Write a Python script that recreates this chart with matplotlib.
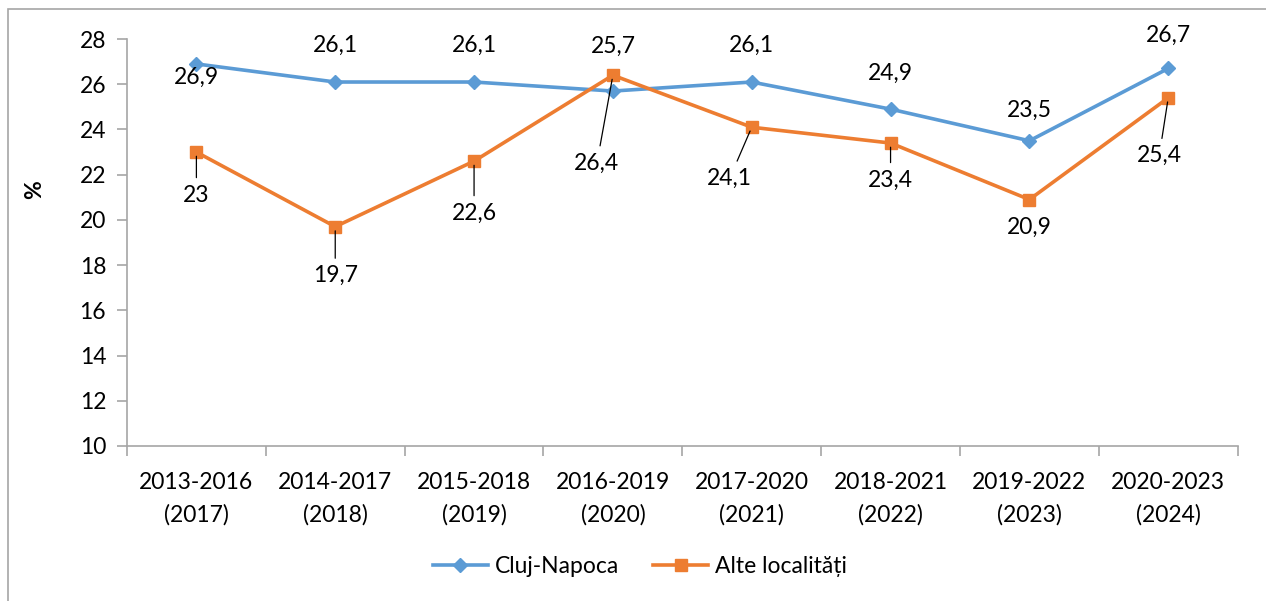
import matplotlib
matplotlib.use('Agg')
from matplotlib import pyplot as plt
from matplotlib.patches import Rectangle

plt.rcParams['font.family'] = ['Lato', 'DejaVu Sans']

categories = ['2013-2016\n(2017)', '2014-2017\n(2018)', '2015-2018\n(2019)',
              '2016-2019\n(2020)', '2017-2020\n(2021)', '2018-2021\n(2022)',
              '2019-2022\n(2023)', '2020-2023\n(2024)']
cluj = [26.9, 26.1, 26.1, 25.7, 26.1, 24.9, 23.5, 26.7]
alte = [23.0, 19.7, 22.6, 26.4, 24.1, 23.4, 20.9, 25.4]
cluj_labels = ['26,9', '26,1', '26,1', '25,7', '26,1', '24,9', '23,5', '26,7']
alte_labels = ['23', '19,7', '22,6', '26,4', '24,1', '23,4', '20,9', '25,4']

# label offsets in pixels (dx, dy), and whether a leader line is drawn
cluj_off = [(0, -13), (0, 37), (0, 37), (0, 45), (0, 37), (0, 36), (0, 30), (0, 33)]
alte_off = [(0, -43), (0, -49), (0, -52), (-16, -88), (-22, -51), (0, -37), (0, -28), (-9, -58)]
alte_leader = [True, True, True, True, True, True, False, True]

blue = '#5B9BD5'
orange = '#ED7D31'
axis_grey = '#A6A6A6'
fs = 16.5

fig = plt.figure(figsize=(12.66, 6.01), dpi=100)
ax = fig.add_axes([0.1003, 0.258, 0.8773, 0.677])

x = range(len(categories))
ax.plot(x, cluj, color=blue, lw=2.6, marker='D', ms=7.5, label='Cluj-Napoca')
ax.plot(x, alte, color=orange, lw=2.6, marker='s', ms=9, label='Alte localități')

for i in x:
    ax.annotate(cluj_labels[i], (i, cluj[i]), xytext=cluj_off[i],
                textcoords='offset pixels', ha='center', va='center', fontsize=fs)
    props = None
    if alte_leader[i]:
        props = dict(arrowstyle='-', color='black', lw=0.9, shrinkA=3, shrinkB=3)
    ax.annotate(alte_labels[i], (i, alte[i]), xytext=alte_off[i],
                textcoords='offset pixels', ha='center', va='center', fontsize=fs,
                arrowprops=props)

ax.set_xlim(-0.5, len(categories) - 0.5)
ax.set_ylim(10, 28)
ax.set_yticks(range(10, 29, 2))
ax.set_xticks(list(x))
ax.set_xticklabels(categories, fontsize=fs, linespacing=1.6)
ax.set_xticks([i - 0.5 for i in range(len(categories) + 1)], minor=True)
ax.tick_params(axis='x', which='major', length=0, pad=19)
ax.tick_params(axis='x', which='minor', length=7, color=axis_grey, width=1.2)
ax.tick_params(axis='y', length=7, color=axis_grey, width=1.2, labelsize=fs, pad=8)

for side in ['top', 'right']:
    ax.spines[side].set_visible(False)
for side in ['left', 'bottom']:
    ax.spines[side].set_color(axis_grey)
    ax.spines[side].set_linewidth(1.2)

ax.set_ylabel('%', fontsize=fs, fontweight='bold')
ax.yaxis.set_label_coords(-0.074, 0.63)

ax.legend(loc='center', bbox_to_anchor=(0.5055, 0.057), bbox_transform=fig.transFigure,
          ncol=2, frameon=False, fontsize=fs, handlelength=2.4, columnspacing=1.5,
          handletextpad=0.3)

# chart frame
fig.patches.append(Rectangle((8 / 1266, -0.01), 1.0, 1 - 9 / 601 + 0.01,
                             transform=fig.transFigure, fill=False,
                             edgecolor='#A6A6A6', lw=1.2))

fig.savefig('out.png', dpi=100)
